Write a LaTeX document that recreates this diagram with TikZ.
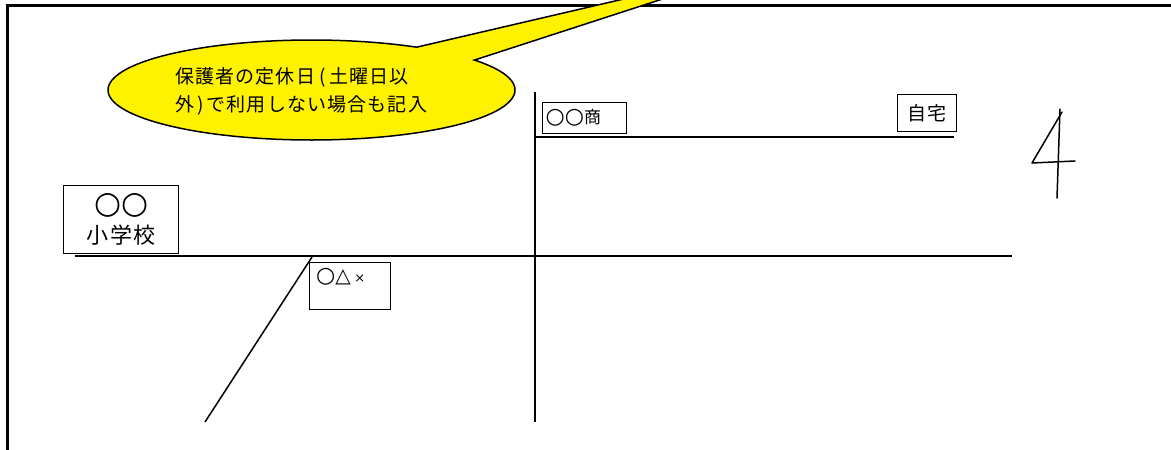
\documentclass[tikz,border=0pt]{standalone}
\usepackage{fontspec}
\newfontfamily\jp[LetterSpace=6]{Noto Sans CJK JP}
\newfontfamily\sym{DejaVu Sans}
\newcommand{\maru}[1]{{\sym\fontsize{#1}{#1}\selectfont ○}}
\begin{document}
\begin{tikzpicture}[x=1pt,y=-1pt,
  box/.style={draw=black, line width=1.4pt, inner sep=0pt},
  road/.style={line width=2.4pt, line cap=butt},
  frameline/.style={line width=3pt},
  thinline/.style={line width=1.5pt},
  callout/.style={fill=yellow, draw=black, line width=1.5pt, line join=miter}]
\useasboundingbox (0,0) rectangle (1171,450);
\clip (0,0) rectangle (1171,450);

% outer frame
\coordinate (fTR) at (1175,5);
\coordinate (fTL) at (7,5);
\coordinate (fBL) at (7,455);
\draw[frameline] (fTR) -- (fTL) -- (fBL);

% callout
\coordinate (tip) at (761,-33);
\draw[callout] ([shift={(311.5,90)}]-36.8:203.5 and 50)
  arc[start angle=-36.8, end angle=301.1, x radius=203.5, y radius=50]
  -- (tip) -- cycle;
\node[anchor=west, align=left, inner sep=0pt, font=\jp\fontsize{19}{28}\selectfont] (note) at (175,91)
  {保護者の定休日\kern4pt(\kern4pt 土曜日以\\外\kern3pt)\kern3pt で利用しない場合も記入};

% roads
\coordinate (r1w) at (75,256);
\coordinate (r1e) at (1012,256);
\draw[road] (r1w) -- (r1e);
\coordinate (vtop) at (535,92);
\coordinate (vbot) at (535,422);
\draw[road] (vtop) -- (vbot);
\coordinate (r2w) at (535,137);
\coordinate (r2e) at (954,137);
\draw[road] (r2w) -- (r2e);
\coordinate (dtop) at (312,257);
\coordinate (dbot) at (205,422);
\draw[thinline] (dtop) -- (dbot);

% boxes
\node[box, anchor=north west, minimum width=84pt, minimum height=31pt, text width=78pt, inner xsep=3pt, align=left,
      font=\jp\fontsize{17}{17}\selectfont] (shop) at (542,102) {\maru{22}\maru{22}商};
\node[box, anchor=north west, minimum width=59pt, minimum height=37pt, align=center,
      font=\jp\fontsize{19}{19}\selectfont] (home) at (897,94) {自宅};
\node[box, anchor=north west, minimum width=115pt, minimum height=68pt, align=center,
      font=\jp\fontsize{22}{34}\selectfont] (school) at (63,185) {\maru{31}\maru{31}\\[-4pt]小学校};
\node[box, anchor=north west, minimum width=81pt, minimum height=47pt] (store) at (309,262) {};
\node[anchor=west, inner sep=0pt, font=\sym\fontsize{22}{22}\selectfont] (storetext) at ([shift={(7,15)}]store.north west) {○{\fontsize{20}{20}\selectfont △}\,{\fontsize{13}{13}\selectfont ×}};

% handwritten 4
\coordinate (f1) at (1062,112);
\coordinate (f2) at (1032,163);
\coordinate (f3) at (1075,161);
\coordinate (f4) at (1060,109);
\coordinate (f5) at (1057,198);
\draw[thinline, line cap=round, line join=round] (f1) -- (f2) -- (f3);
\draw[thinline, line cap=round] (f4) -- (f5);
\end{tikzpicture}
\end{document}
